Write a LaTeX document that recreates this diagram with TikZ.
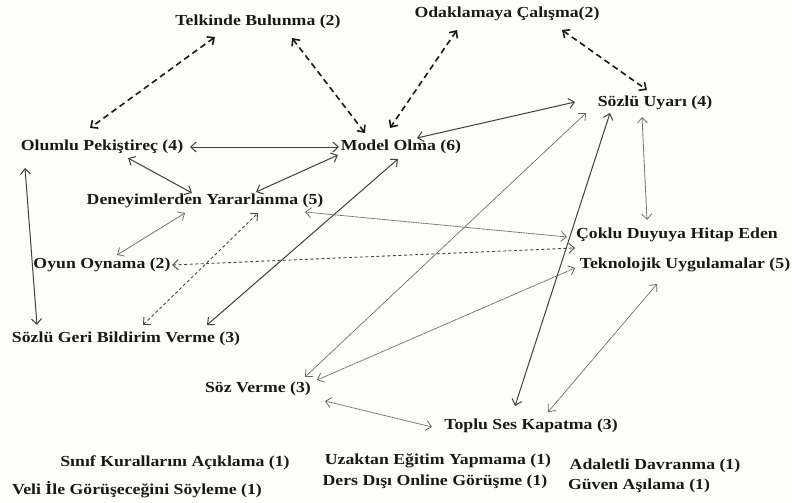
\documentclass[tikz,border=0pt]{standalone}
\usepackage{fontspec}
\newfontfamily\lab{Liberation Serif}[FakeStretch=1.16]
\usetikzlibrary{arrows.meta}
\definecolor{bgc}{RGB}{253,253,250}
\begin{document}
\begin{tikzpicture}[x=1pt,y=-1pt,
  lbl/.style={font=\lab\bfseries\fontsize{15.3}{18}\selectfont, inner sep=0pt, text=black!90},
  arr/.style={{Straight Barb[length=5.5pt,width=10pt]}-{Straight Barb[length=5.5pt,width=10pt]}},
  bigdash/.style={arr, draw=black!90, line width=1.6pt, dash pattern=on 6pt off 4pt},
  dk/.style={arr, draw=black!75, line width=1pt},
  lg/.style={arr, draw=black!55, line width=0.8pt},
  fd/.style={arr, draw=black!60, line width=0.8pt, dash pattern=on 1.2pt off 0.5pt},
  thd/.style={arr, draw=black!72, line width=0.9pt, dash pattern=on 3pt off 2.5pt}
]
\fill[bgc] (0,0) rectangle (792,503);
\useasboundingbox (0,0) rectangle (792,503);
% nodes
\node[lbl] (tel) at (258,22) {Telkinde Bulunma (2)};
\node[lbl] (oda) at (507,14) {Odaklamaya Çalışma(2)};
\node[lbl] (olu) at (102,147) {Olumlu Pekiştireç (4)};
\node[lbl] (mod) at (401,147) {Model Olma (6)};
\node[lbl] (soz) at (655,103) {Sözlü Uyarı (4)};
\node[lbl] (den) at (205,201) {Deneyimlerden Yararlanma (5)};
\node[lbl] (cok) at (677,235) {Çoklu Duyuya Hitap Eden};
\node[lbl] (tek) at (685,265) {Teknolojik Uygulamalar (5)};
\node[lbl] (oyu) at (102,265) {Oyun Oynama (2)};
\node[lbl] (sgb) at (126,339) {Sözlü Geri Bildirim Verme (3)};
\node[lbl] (szv) at (258,389) {Söz Verme (3)};
\node[lbl] (top) at (531,426) {Toplu Ses Kapatma (3)};
\node[lbl] (kur) at (175,463) {Sınıf Kurallarını Açıklama (1)};
\node[lbl] (vel) at (137,490) {Veli İle Görüşeceğini Söyleme (1)};
\node[lbl] (uza) at (438,461) {Uzaktan Eğitim Yapmama (1)};
\node[lbl] (der) at (435,482) {Ders Dışı Online Görüşme (1)};
\node[lbl] (ada) at (655,466) {Adaletli Davranma (1)};
\node[lbl] (guv) at (639,486) {Güven Aşılama (1)};
% dashed thick
\draw[bigdash] ([shift={(-43,15)}]tel.center) -- ([shift={(-12,-19)}]olu.center);
\draw[bigdash] ([shift={(34,16)}]tel.center) -- ([shift={(-36,-14)}]mod.center);
\draw[bigdash] ([shift={(-50,16)}]oda.center) -- ([shift={(-11,-19)}]mod.center);
\draw[bigdash] ([shift={(55,16)}]oda.center) -- ([shift={(-8,-13)}]soz.center);
% dark solid
\draw[dk] ([shift={(88,0)}]olu.center) -- ([shift={(-62,0)}]mod.center);
\draw[dk] ([shift={(26,11)}]olu.center) -- ([shift={(-13,-8)}]den.center);
\draw[dk] ([shift={(-63,8)}]mod.center) -- ([shift={(51,-9)}]den.center);
\draw[dk] ([shift={(16,-9)}]mod.center) -- ([shift={(-80,-1)}]soz.center);
\draw[dk] ([shift={(-45,10)}]soz.center) -- ([shift={(-16,-20)}]top.center);
\draw[dk] ([shift={(-3,12)}]mod.center) -- ([shift={(81,-14)}]sgb.center);
\draw[dk] ([shift={(-77,21)}]olu.center) -- ([shift={(-89,-14)}]sgb.center);
% light gray
\draw[lg] ([shift={(-13,14)}]soz.center) -- ([shift={(-30,-15)}]cok.center);
\draw[lg] ([shift={(15,-10)}]oyu.center) -- ([shift={(-20,12)}]den.center);
\draw[fd] ([shift={(-69,10)}]soz.center) -- ([shift={(47,-12)}]szv.center);
\draw[fd] ([shift={(100,11)}]den.center) -- ([shift={(-110,2)}]cok.center);
\draw[fd] ([shift={(59,-9)}]szv.center) -- ([shift={(-110,3)}]tek.center);
\draw[fd] ([shift={(-28,19)}]tek.center) -- ([shift={(17,-14)}]top.center);
\draw[fd] ([shift={(67,12)}]szv.center) -- ([shift={(-99,1)}]top.center);
% thin dashed
\draw[thd] ([shift={(17,-14)}]sgb.center) -- ([shift={(53,12)}]den.center);
\draw[thd] ([shift={(70,0)}]oyu.center) -- ([shift={(-102,13)}]cok.center);
\end{tikzpicture}
\end{document}
